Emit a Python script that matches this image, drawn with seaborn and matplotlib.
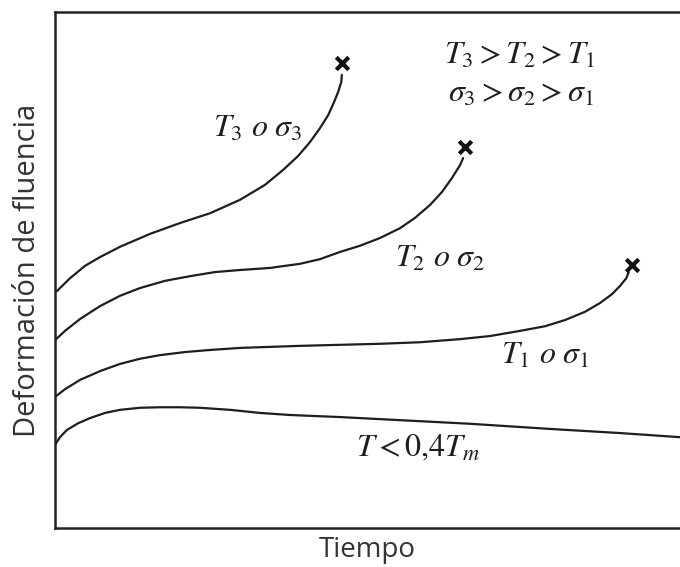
import numpy as np
import pandas as pd
import seaborn as sns
import matplotlib.pyplot as plt

# curvas de fluencia (tiempo y deformacion en unidades arbitrarias 0-100)
t_low = [0, 0.8, 1.9, 3.7, 5.6, 8.0, 10.4, 13.6, 16.8, 20.0, 23.2, 28.0, 32.8, 37.6, 45.6, 55.2, 66.4, 79.2, 90.4, 100]
e_low = [16.1, 17.6, 19.0, 20.3, 21.3, 22.3, 22.9, 23.3, 23.4, 23.4, 23.3, 22.9, 22.3, 21.9, 21.5, 20.9, 20.2, 19.2, 18.4, 17.6]

t_1 = [0, 1.6, 4.0, 7.2, 10.4, 13.6, 16.8, 20.8, 24.8, 29.6, 34.4, 39.2, 45.6, 52.0, 58.4, 64.8,
       69.6, 74.4, 78.4, 81.6, 84.8, 87.2, 89.1, 90.4, 91.4, 91.8]
e_1 = [25.4, 26.9, 28.7, 30.4, 31.8, 32.8, 33.5, 34.1, 34.5, 34.9, 35.1, 35.3, 35.5, 35.7, 36.0, 36.6,
       37.2, 38.2, 39.1, 40.3, 41.9, 43.6, 45.3, 46.9, 48.4, 49.6]

t_2 = [0, 1.6, 4.0, 7.2, 10.4, 13.6, 17.6, 21.6, 25.6, 29.6, 34.4, 39.2, 42.4, 45.6, 48.8, 52.0,
       55.2, 57.6, 60.0, 61.9, 63.5, 64.8, 65.3]
e_2 = [36.4, 38.2, 40.5, 43.0, 45.0, 46.5, 47.9, 48.8, 49.6, 50.0, 50.4, 51.2, 52.1, 53.5, 54.7, 56.2,
       58.1, 60.1, 62.6, 65.1, 67.8, 70.3, 71.7]

t_3 = [0.3, 2.4, 4.8, 7.2, 10.4, 15.2, 20.0, 24.8, 29.6, 33.6, 36.5, 38.9, 40.8, 42.4, 43.7, 44.6, 45.3, 45.8, 45.9]
e_3 = [45.9, 48.4, 50.8, 52.5, 54.5, 57.0, 59.1, 61.0, 63.6, 66.5, 69.4, 72.1, 74.8, 77.5, 80.0, 82.4, 84.5, 86.4, 87.8]

# puntos de ruptura
t_rupt = [45.9, 65.6, 92.3]
e_rupt = [90.1, 73.8, 51.0]

sns.set_style("white")
plt.rcParams['mathtext.fontset'] = 'stix'
plt.rcParams['font.family'] = ['Open Sans', 'DejaVu Sans']

fig = plt.figure(figsize=(6.8, 5.67), dpi=100)
ax = fig.add_axes([55/680, 39/567, 1 - 55/680, 516/567])

col = "#1e1e1e"
for t, e in [(t_low, e_low), (t_1, e_1), (t_2, e_2), (t_3, e_3)]:
    sns.lineplot(x=t, y=e, ax=ax, color=col, lw=1.6, sort=False, estimator=None)

sns.scatterplot(x=t_rupt, y=e_rupt, ax=ax, marker="x", s=80, color="#111111",
                linewidth=3, zorder=5)

ax.set_xlim(0, 100)
ax.set_ylim(0, 100)
ax.set_xticks([])
ax.set_yticks([])
for s in ["left", "bottom", "top"]:
    ax.spines[s].set_color("#222222")
    ax.spines[s].set_linewidth(1.8)
ax.spines["right"].set_visible(False)

ax.set_xlabel("Tiempo", fontsize=20, color="#333333", labelpad=6)
ax.set_ylabel("Deformación de fluencia", fontsize=21, color="#333333", labelpad=9)

fs = 23
ax.text(32.5, 77.5, r'$T_3\ o\ \sigma_3$', fontsize=fs, ha="center", va="center", color=col)
ax.text(74.4, 91.7, r'$T_3 > T_2 > T_1$', fontsize=fs, ha="center", va="center", color=col)
ax.text(74.6, 84.3, r'$\sigma_3 > \sigma_2 > \sigma_1$', fontsize=fs, ha="center", va="center", color=col)
ax.text(61.6, 52.3, r'$T_2\ o\ \sigma_2$', fontsize=fs, ha="center", va="center", color=col)
ax.text(78.4, 33.5, r'$T_1\ o\ \sigma_1$', fontsize=fs, ha="center", va="center", color=col)
ax.text(58.1, 15.5, r'$T < 0{,}4T_m$', fontsize=fs, ha="center", va="center", color=col)

fig.savefig("out.png", dpi=100)
